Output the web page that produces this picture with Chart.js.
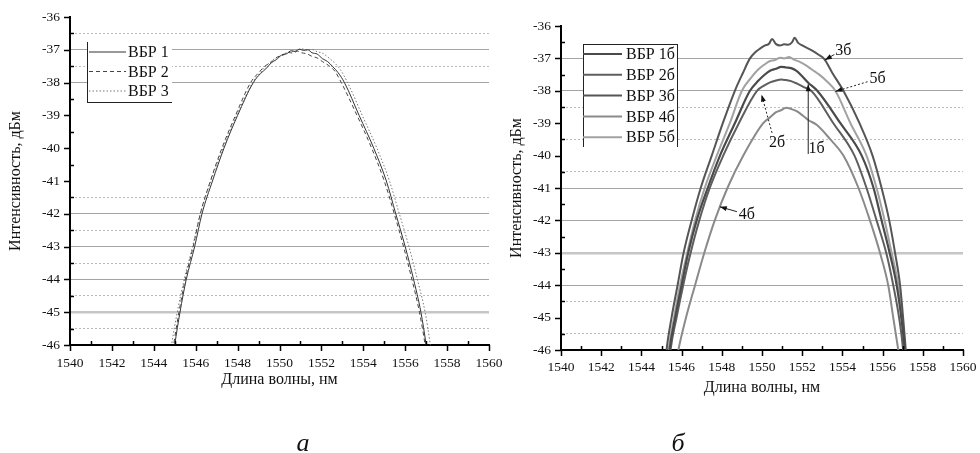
<!DOCTYPE html>
<html lang="ru">
<head>
<meta charset="utf-8">
<script src="https://cdn.jsdelivr.net/npm/chart.js@4.4.1/dist/chart.umd.min.js"></script>
<style>
  html, body { margin: 0; padding: 0; background: #fff; }
  body { width: 980px; height: 453px; position: relative; overflow: hidden; }
  #wrapA { position: absolute; left: 0; top: 0; width: 510px; height: 453px; }
  #wrapB { position: absolute; left: 500px; top: 0; width: 480px; height: 453px; }
  .cap { position: absolute; top: 430px; width: 40px; text-align: center;
         font: italic 26px 'Liberation Serif', 'Times New Roman', serif; line-height: 26px; color: #111; }
</style>
</head>
<body>
<div id="wrapA"><canvas id="graficoA"></canvas></div>
<div id="wrapB"><canvas id="graficoB"></canvas></div>
<div class="cap" style="left:283px">а</div>
<div class="cap" style="left:658px">б</div>
<script>
// ---- panel a: three gratings (ВБР 1..3) ----
const lamA1 = [1544.8, 1545.0, 1545.25, 1545.55, 1545.95, 1546.3, 1546.8, 1547.35, 1548.0, 1548.75,
  1549.1, 1549.35, 1549.6, 1549.85, 1550.1, 1550.35, 1550.55, 1550.75, 1550.95, 1551.15,
  1551.35, 1551.55, 1551.8, 1552.05, 1552.3, 1552.55, 1552.8,
  1553.1, 1553.8, 1554.5, 1555.1, 1555.55, 1556.0, 1556.4, 1556.75, 1557.0, 1557.2]
const dbA1 = [-47, -46, -45, -44, -43, -42, -41, -40, -39, -38,
  -37.72, -37.58, -37.4, -37.3, -37.16, -37.12, -37.03, -37.05, -36.98, -37.02,
  -37.0, -37.09, -37.13, -37.27, -37.36, -37.52, -37.7,
  -38, -39, -40, -41, -42, -43, -44, -45, -46, -47]

const lamA2 = [1544.75, 1544.95, 1545.2, 1545.5, 1545.88, 1546.22, 1546.7, 1547.25, 1547.9, 1548.62,
  1549.0, 1549.3, 1549.6, 1549.9, 1550.15, 1550.4, 1550.65, 1550.85, 1551.05, 1551.3,
  1551.55, 1551.8, 1552.05, 1552.35, 1552.65,
  1552.95, 1553.7, 1554.4, 1555.0, 1555.48, 1555.92, 1556.32, 1556.68, 1556.95, 1557.15]
const dbA2 = [-47, -46, -45, -44, -43, -42, -41, -40, -39, -38,
  -37.7, -37.5, -37.38, -37.22, -37.17, -37.08, -37.1, -37.04, -37.09, -37.12,
  -37.2, -37.25, -37.36, -37.48, -37.66,
  -38, -39, -40, -41, -42, -43, -44, -45, -46, -47]

const lamA3 = [1544.65, 1544.85, 1545.12, 1545.45, 1545.85, 1546.22, 1546.72, 1547.3, 1547.95, 1548.72,
  1549.1, 1549.4, 1549.7, 1550.0, 1550.3, 1550.55, 1550.8, 1551.05, 1551.3, 1551.55,
  1551.8, 1552.05, 1552.3, 1552.6, 1552.9,
  1553.25, 1553.95, 1554.65, 1555.25, 1555.72, 1556.18, 1556.58, 1556.95, 1557.2, 1557.4]
const dbA3 = [-47, -46, -45, -44, -43, -42, -41, -40, -39, -38,
  -37.68, -37.47, -37.3, -37.2, -37.1, -37.05, -37.03, -36.97, -37.0, -36.99,
  -37.06, -37.1, -37.22, -37.38, -37.6,
  -38, -39, -40, -41, -42, -43, -44, -45, -46, -47]

// ---- panel б: five gratings (ВБР 1б..5б) ----
const lamB1 = [1545.25, 1545.4, 1545.68, 1546.0, 1546.33, 1546.75, 1547.3, 1547.91, 1548.65, 1549.4,
  1549.8, 1550.1, 1550.4, 1550.7, 1550.95, 1551.2, 1551.45, 1551.7, 1551.95, 1552.3,
  1552.75, 1553.9, 1554.96, 1555.55, 1555.95, 1556.35, 1556.7, 1556.93, 1557.1, 1557.2]
const dbB1 = [-47, -46, -45, -44, -43, -42, -41, -40, -39, -38,
  -37.7, -37.52, -37.38, -37.32, -37.26, -37.28, -37.3, -37.38, -37.52, -37.75,
  -38, -39, -40, -41, -42, -43, -44, -45, -46, -47]

const lamB2 = [1545.3, 1545.45, 1545.75, 1546.08, 1546.45, 1546.88, 1547.4, 1548.07, 1548.85, 1549.75,
  1550.1, 1550.4, 1550.7, 1550.95, 1551.2, 1551.45, 1551.75, 1552.05,
  1552.45, 1553.55, 1554.6, 1555.2, 1555.7, 1556.18, 1556.53, 1556.82, 1557.02, 1557.12]
const dbB2 = [-47, -46, -45, -44, -43, -42, -41, -40, -39, -38,
  -37.84, -37.74, -37.68, -37.65, -37.67, -37.7, -37.78, -37.88,
  -38, -39, -40, -41, -42, -43, -44, -45, -46, -47]

const lamB3 = [1545.1, 1545.25, 1545.5, 1545.8, 1546.1, 1546.5, 1546.95, 1547.5, 1548.05, 1548.65,
  1549.05, 1549.4, 1549.65, 1549.9, 1550.15, 1550.35, 1550.5, 1550.7, 1550.9, 1551.1,
  1551.3, 1551.5, 1551.62, 1551.8, 1552.0, 1552.25, 1552.5, 1552.8, 1553.1, 1553.5,
  1554.05, 1554.85, 1555.5, 1555.95, 1556.33, 1556.62, 1556.87, 1557.02, 1557.15, 1557.25]
const dbB3 = [-47, -46, -45, -44, -43, -42, -41, -40, -39, -38,
  -37.45, -37.0, -36.82, -36.7, -36.6, -36.55, -36.4, -36.56, -36.6, -36.56,
  -36.58, -36.5, -36.36, -36.52, -36.6, -36.68, -36.76, -36.88, -37.02, -37.45,
  -38, -39, -40, -41, -42, -43, -44, -45, -46, -47]

const lamB4 = [1545.7, 1545.84, 1546.22, 1546.67, 1547.13, 1547.65, 1548.28, 1549.07, 1550.06,
  1550.4, 1550.7, 1550.95, 1551.2, 1551.45, 1551.7, 1552.0, 1552.3, 1552.72, 1553.4,
  1554.05, 1554.8, 1555.37, 1555.87, 1556.28, 1556.53, 1556.78, 1556.9]
const dbB4 = [-46.5, -46, -45, -44, -43, -42, -41, -40, -39,
  -38.82, -38.66, -38.6, -38.52, -38.56, -38.62, -38.75, -38.9, -39.05, -39.5,
  -40, -41, -42, -43, -44, -45, -46, -46.5]

const lamB5 = [1545.2, 1545.35, 1545.62, 1545.92, 1546.28, 1546.67, 1547.15, 1547.75, 1548.4, 1549.0,
  1549.45, 1549.8, 1550.1, 1550.4, 1550.65, 1550.9, 1551.1, 1551.35, 1551.6, 1551.85,
  1552.15, 1552.5, 1552.85, 1553.25, 1553.65, 1554.4, 1555.2, 1555.7, 1556.1, 1556.45,
  1556.78, 1556.98, 1557.12, 1557.22]
const dbB5 = [-47, -46, -45, -44, -43, -42, -41, -40, -39, -38,
  -37.6, -37.35, -37.2, -37.08, -37.05, -36.98, -37.0, -36.96, -37.04, -37.1,
  -37.2, -37.35, -37.5, -37.72, -38, -39, -40, -41, -42, -43,
  -44, -45, -46, -47]

// which horizontal grid lines survived in the scan
const gridSolidA = [-37, -38, -42, -43, -44]
const gridThickA = [-45]
const gridDotA = [-36.5, -37.5, -41.5, -42.5, -43.5, -44.5, -45.5]
const gridSolidB = [-37, -38, -41, -42, -44]
const gridThickB = [-43]
const gridDotB = [-38.5, -39.5, -40.5, -44.5, -45.5]

// curve labels on panel б (wavelength, dBm)
const notesB = [
  { text: '3б', at: [1554.05, -36.75], from: [1553.6, -36.88], to: [1553.13, -37.05], dash: false },
  { text: '5б', at: [1555.75, -37.62], from: [1555.25, -37.72], to: [1553.65, -38.02], dash: true },
  { text: '1б', at: [1552.72, -39.8], from: [1552.3, -39.95], to: [1552.3, -37.8], dash: false },
  { text: '2б', at: [1550.75, -39.62], from: [1550.5, -39.3], to: [1549.98, -38.12], dash: true },
  { text: '4б', at: [1549.25, -41.83], from: [1548.75, -41.73], to: [1547.9, -41.58], dash: false }
]

const SERIF = "'Liberation Serif', 'Times New Roman', serif"

function isWhole(v) {
  return Math.abs(v - Math.round(v)) < 1e-6
}

function hasVal(list, v) {
  return list.some(g => Math.abs(g - v) < 1e-6)
}

function pts(xs, ys) {
  return xs.map((x, i) => ({ x: x, y: ys[i] }))
}

// Origin-like ticks: major ones outward, minor ones inward
const tickMarks = {
  id: 'tickMarks',
  afterDraw(chart) {
    const { ctx, chartArea: a, scales: { x, y } } = chart
    ctx.save()
    ctx.strokeStyle = '#000'
    ctx.lineWidth = 1.5
    ctx.beginPath()
    y.ticks.forEach(t => {
      const py = Math.round(y.getPixelForValue(t.value)) + 0.5
      if (isWhole(t.value)) { ctx.moveTo(a.left - 6, py); ctx.lineTo(a.left, py) }
      else { ctx.moveTo(a.left, py); ctx.lineTo(a.left + 4, py) }
    })
    x.ticks.forEach(t => {
      const px = Math.round(x.getPixelForValue(t.value)) + 0.5
      if (t.value % 2 === 0) { ctx.moveTo(px, a.bottom); ctx.lineTo(px, a.bottom + 6) }
      else { ctx.moveTo(px, a.bottom); ctx.lineTo(px, a.bottom - 4) }
    })
    ctx.stroke()
    ctx.restore()
  }
}

// legend box drawn inside the plot, the way Origin does it
const boxLegend = {
  id: 'boxLegend',
  afterDatasetsDraw(chart, args, o) {
    if (!o || !o.box) return
    const ctx = chart.ctx
    const [bx, by, bw, bh] = o.box
    ctx.save()
    ctx.fillStyle = '#fff'
    ctx.fillRect(bx, by, bw, bh)
    ctx.strokeStyle = '#222'
    ctx.lineWidth = 1
    ctx.beginPath()
    if (o.sides.includes('left')) { ctx.moveTo(bx + 0.5, by); ctx.lineTo(bx + 0.5, by + bh) }
    if (o.sides.includes('right')) { ctx.moveTo(bx + bw + 0.5, by); ctx.lineTo(bx + bw + 0.5, by + bh) }
    if (o.sides.includes('top')) { ctx.moveTo(bx, by + 0.5); ctx.lineTo(bx + bw, by + 0.5) }
    if (o.sides.includes('bottom')) { ctx.moveTo(bx, by + bh + 0.5); ctx.lineTo(bx + bw, by + bh + 0.5) }
    ctx.stroke()
    ctx.font = '16px ' + SERIF
    ctx.textBaseline = 'middle'
    ctx.textAlign = 'left'
    chart.data.datasets.forEach((ds, i) => {
      const ry = o.firstRow + i * o.rowH
      ctx.strokeStyle = ds.borderColor
      ctx.lineWidth = ds.borderWidth
      ctx.setLineDash(ds.borderDash || [])
      ctx.beginPath()
      ctx.moveTo(o.sample[0], ry)
      ctx.lineTo(o.sample[1], ry)
      ctx.stroke()
      ctx.setLineDash([])
      ctx.fillStyle = '#111'
      ctx.fillText(ds.label, o.textX, ry + 1)
    })
    ctx.restore()
  }
}

// labels with arrows pointing at curves
const curveLabels = {
  id: 'curveLabels',
  afterDatasetsDraw(chart, args, o) {
    if (!o || !o.items || !o.items.length) return
    const { ctx, scales: { x, y } } = chart
    ctx.save()
    o.items.forEach(n => {
      const x1 = x.getPixelForValue(n.from[0]), y1 = y.getPixelForValue(n.from[1])
      const x2 = x.getPixelForValue(n.to[0]), y2 = y.getPixelForValue(n.to[1])
      ctx.strokeStyle = '#222'
      ctx.lineWidth = 1
      ctx.setLineDash(n.dash ? [2, 2] : [])
      ctx.beginPath()
      ctx.moveTo(x1, y1)
      ctx.lineTo(x2, y2)
      ctx.stroke()
      ctx.setLineDash([])
      const ang = Math.atan2(y2 - y1, x2 - x1)
      ctx.fillStyle = '#111'
      ctx.beginPath()
      ctx.moveTo(x2, y2)
      ctx.lineTo(x2 - 7 * Math.cos(ang) + 2.5 * Math.sin(ang), y2 - 7 * Math.sin(ang) - 2.5 * Math.cos(ang))
      ctx.lineTo(x2 - 7 * Math.cos(ang) - 2.5 * Math.sin(ang), y2 - 7 * Math.sin(ang) + 2.5 * Math.cos(ang))
      ctx.closePath()
      ctx.fill()
      ctx.font = '16px ' + SERIF
      ctx.textAlign = 'center'
      ctx.textBaseline = 'middle'
      ctx.fillText(n.text, x.getPixelForValue(n.at[0]), y.getPixelForValue(n.at[1]))
    })
    ctx.restore()
  }
}

function gridColor(c, g) {
  if (!c.tick) return 'rgba(0,0,0,0)'
  const v = c.tick.value
  if (hasVal(g.thick, v)) return '#c6c6c6'
  if (hasVal(g.solid, v)) return '#a4a4a4'
  if (hasVal(g.dot, v)) return '#bcbcbc'
  return 'rgba(0,0,0,0)'
}

function criarGrafico(id, o) {
  const el = document.getElementById(id)
  if (!el) return

  new Chart(el, {
    type: 'line',
    data: {
      datasets: o.series.map(s => ({
        label: s.label,
        data: pts(s.x, s.y),
        borderColor: s.color,
        borderWidth: s.width,
        borderDash: s.dash || [],
        pointRadius: 0,
        cubicInterpolationMode: 'monotone',
        fill: false
      }))
    },
    options: {
      animation: false,
      responsive: true,
      maintainAspectRatio: false,
      layout: { padding: o.pad },
      plugins: {
        legend: { display: false },
        tooltip: { enabled: false },
        boxLegend: o.legend,
        curveLabels: { items: o.notes || [] }
      },
      scales: {
        x: {
          type: 'linear',
          min: 1540,
          max: 1560,
          afterFit(s) { s.height = 50; s.paddingLeft = 0; s.paddingRight = 0 },
          ticks: {
            stepSize: 1,
            autoSkip: false,
            maxRotation: 0,
            padding: o.xTickPad,
            color: '#111',
            font: { family: SERIF, size: 13.5 },
            callback: v => (v % 2 === 0 ? String(v) : '')
          },
          grid: { drawOnChartArea: false, drawTicks: false },
          border: { color: '#000', width: 2 },
          title: {
            display: true,
            text: 'Длина волны, нм',
            color: '#111',
            font: { family: SERIF, size: 16 },
            padding: { top: 0, bottom: o.xTitlePad }
          }
        },
        y: {
          min: -46,
          max: -36,
          afterFit(s) { s.width = o.yWidth; s.paddingTop = 0; s.paddingBottom = 0 },
          ticks: {
            stepSize: 0.5,
            autoSkip: false,
            padding: 10,
            color: '#111',
            font: { family: SERIF, size: 13.5 },
            callback: v => (isWhole(v) ? String(Math.round(v)) : '')
          },
          grid: {
            drawTicks: false,
            color: c => gridColor(c, o.grid),
            lineWidth: c => (c.tick && hasVal(o.grid.thick, c.tick.value) ? 2.5 : 1)
          },
          border: {
            color: '#000',
            width: 2,
            dash: c => (c.tick && !isWhole(c.tick.value) ? [2, 2] : [])
          },
          title: {
            display: true,
            text: 'Интенсивность, дБм',
            color: '#111',
            font: { family: SERIF, size: 16 },
            padding: { top: o.yTitlePad, bottom: 0 }
          }
        }
      }
    },
    plugins: [tickMarks, boxLegend, curveLabels]
  })
}

document.addEventListener('DOMContentLoaded', () => {
  criarGrafico('graficoA', {
    series: [
      { label: 'ВБР 1', x: lamA1, y: dbA1, color: '#333', width: 1 },
      { label: 'ВБР 2', x: lamA2, y: dbA2, color: '#444', width: 1, dash: [4, 3] },
      { label: 'ВБР 3', x: lamA3, y: dbA3, color: '#777', width: 1, dash: [1.5, 2] }
    ],
    pad: { left: 0, top: 17, right: 21, bottom: 58 },
    yWidth: 70,
    xTickPad: 10,
    xTitlePad: 6,
    yTitlePad: 6,
    grid: { solid: gridSolidA, thick: gridThickA, dot: gridDotA },
    legend: { box: [87, 42, 85, 60], sides: ['left', 'bottom'], firstRow: 52, rowH: 19.5, sample: [89, 126], textX: 128 }
  })

  criarGrafico('graficoB', {
    series: [
      { label: 'ВБР 1б', x: lamB1, y: dbB1, color: '#4a4a4a', width: 2.2 },
      { label: 'ВБР 2б', x: lamB2, y: dbB2, color: '#5e5e5e', width: 2 },
      { label: 'ВБР 3б', x: lamB3, y: dbB3, color: '#555', width: 2 },
      { label: 'ВБР 4б', x: lamB4, y: dbB4, color: '#8a8a8a', width: 2 },
      { label: 'ВБР 5б', x: lamB5, y: dbB5, color: '#a2a2a2', width: 2 }
    ],
    pad: { left: 0, top: 26, right: 17, bottom: 53 },
    yWidth: 61,
    xTickPad: 9,
    xTitlePad: 3,
    yTitlePad: 7,
    grid: { solid: gridSolidB, thick: gridThickB, dot: gridDotB },
    legend: { box: [83, 44, 94, 103], sides: ['left', 'top', 'right'], firstRow: 54, rowH: 20.8, sample: [83, 122], textX: 126 },
    notes: notesB
  })
})
</script>
</body>
</html>
